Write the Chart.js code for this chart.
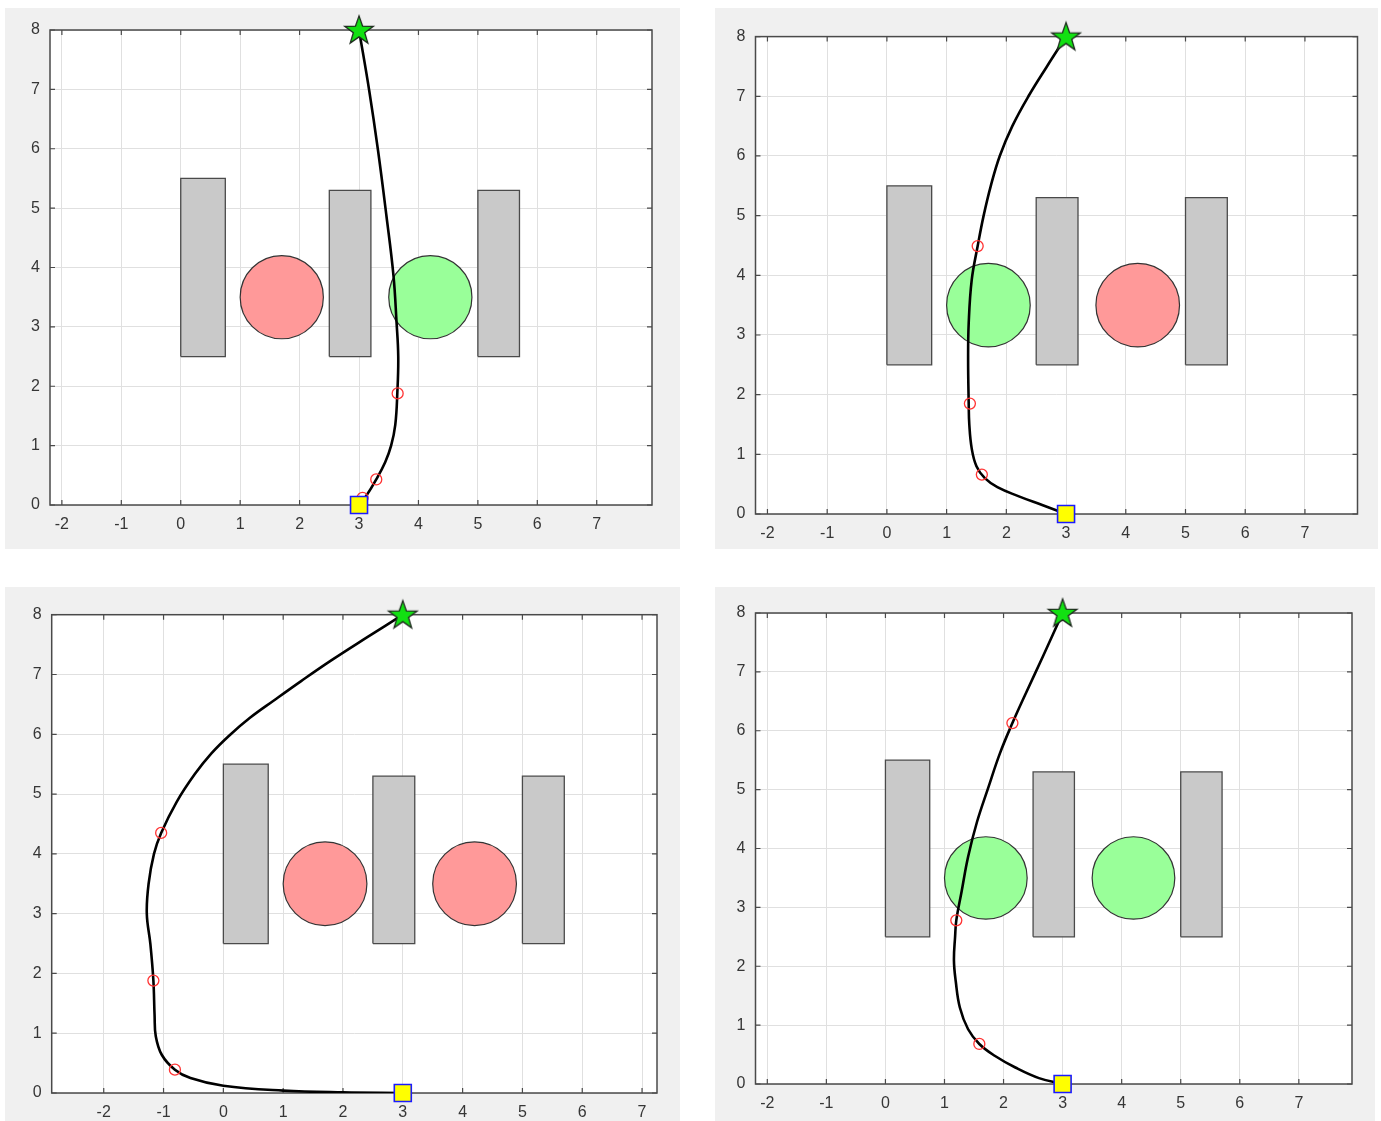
<!DOCTYPE html>
<html>
<head>
<meta charset="utf-8">
<script src="https://cdn.jsdelivr.net/npm/chart.js@4.4.1/dist/chart.umd.min.js"></script>
<style>
  html, body { margin: 0; padding: 0; background: #ffffff; }
  body { width: 1381px; height: 1121px; position: relative; overflow: hidden; }
  .panel { position: absolute; background: #f0f0f0; }
  canvas { display: block; }
</style>
</head>
<body>
<div class="panel" style="left:5px;top:8px;width:675px;height:541px"><canvas id="c1" width="675" height="541"></canvas></div>
<div class="panel" style="left:715px;top:8px;width:663px;height:541px"><canvas id="c2" width="663" height="541"></canvas></div>
<div class="panel" style="left:5px;top:587px;width:675px;height:534px"><canvas id="c3" width="675" height="534"></canvas></div>
<div class="panel" style="left:715px;top:587px;width:660px;height:534px"><canvas id="c4" width="660" height="534"></canvas></div>
<script>
// Tick values shared by every panel
const xTicks = [-2, -1, 0, 1, 2, 3, 4, 5, 6, 7];
const yTicks = [0, 1, 2, 3, 4, 5, 6, 7, 8];

// Rectangular walls (x from/to, y from/to)
const rectX0 = [0, 2.5, 5];
const rectX1 = [0.75, 3.2, 5.7];
const rectY0 = [2.5, 2.5, 2.5];
const rectY1 = [5.5, 5.3, 5.3];

// Round obstacles (centre and radius)
const circleX = [1.7, 4.2];
const circleY = [3.5, 3.5];
const circleR = [0.7, 0.7];

// Start and goal
const startXY = [3, 0];
const goalXY = [3, 8];

// Obstacle state in each panel: 'red' or 'green'
const circleState1 = ['red', 'green'];
const circleState2 = ['green', 'red'];
const circleState3 = ['red', 'red'];
const circleState4 = ['green', 'green'];

// Axis limits of each panel
const xLim1 = [-2.2, 7.93];
const xLim2 = [-2.2, 7.88];
const xLim3 = [-2.87, 7.25];
const xLim4 = [-2.2, 7.9];
const yLim = [0, 8];

// Planned trajectories
const pathX1 = [3.0, 3.12, 3.29, 3.44, 3.54, 3.61, 3.645, 3.66, 3.63, 3.58, 3.46, 3.32, 3.17, 3.0];
const pathY1 = [0.0, 0.15, 0.43, 0.72, 1.0, 1.35, 1.9, 2.5, 3.1, 3.86, 4.88, 5.97, 6.99, 8.0];

const pathX2 = [3.0, 2.6, 2.2, 1.85, 1.64, 1.5, 1.42, 1.38, 1.37, 1.36, 1.37, 1.42, 1.52, 1.62, 1.74, 1.89, 2.10, 2.37, 2.68, 3.0];
const pathY2 = [0.0, 0.15, 0.30, 0.45, 0.60, 0.80, 1.10, 1.50, 1.85, 2.60, 3.20, 3.92, 4.49, 5.0, 5.5, 6.0, 6.5, 7.0, 7.5, 8.0];

const pathX3 = [3.0, 2.0, 1.0, 0.0, -0.55, -0.81, -1.03, -1.13, -1.15, -1.17, -1.22, -1.28, -1.25, -1.16, -1.04, -0.78, -0.48, -0.2, 0.1, 0.45, 0.85, 1.3, 1.81, 2.4, 3.0];
const pathY3 = [0.0, 0.01, 0.04, 0.12, 0.25, 0.39, 0.64, 0.95, 1.3, 1.88, 2.49, 3.0, 3.5, 4.0, 4.35, 4.87, 5.33, 5.68, 5.98, 6.28, 6.57, 6.89, 7.24, 7.62, 8.0];

const pathX4 = [3.0, 2.6, 2.2, 1.85, 1.59, 1.40, 1.26, 1.19, 1.16, 1.18, 1.20, 1.29, 1.40, 1.55, 1.74, 1.94, 2.15, 2.37, 2.67, 3.0];
const pathY4 = [0.0, 0.10, 0.28, 0.48, 0.68, 0.93, 1.30, 1.75, 2.10, 2.51, 2.78, 3.27, 3.86, 4.45, 5.03, 5.62, 6.13, 6.62, 7.27, 8.0];

// Intermediate waypoints (red rings)
const wpX1 = [3.06, 3.29, 3.65];
const wpY1 = [0.12, 0.43, 1.88];
const wpX2 = [1.59, 1.39, 1.52];
const wpY2 = [0.66, 1.85, 4.49];
const wpX3 = [-0.81, -1.17, -1.04];
const wpY3 = [0.39, 1.88, 4.35];
const wpX4 = [1.59, 1.20, 2.15];
const wpY4 = [0.68, 2.78, 6.13];

const FONT = "'Liberation Sans', Arial, Helvetica, sans-serif";
const TEXT = '#363636';
const AXIS = '#4a4a4a';

function zip(xs, ys) { return xs.map((v, i) => ({ x: v, y: ys[i] })); }

function makeStar(R) {
  const s = Math.ceil(R * 2 + 6);
  const c = document.createElement('canvas');
  c.width = s; c.height = s;
  const g = c.getContext('2d');
  const cx = s / 2, cy = s / 2 + R * 0.06;
  g.beginPath();
  for (let i = 0; i < 10; i++) {
    const r = i % 2 ? R * 0.40 : R;
    const a = -Math.PI / 2 + i * Math.PI / 5;
    g.lineTo(cx + r * Math.cos(a), cy + r * Math.sin(a));
  }
  g.closePath();
  g.fillStyle = '#12e012';
  g.fill();
  g.lineWidth = 1.3;
  g.strokeStyle = '#1e2a1e';
  g.stroke();
  return c;
}
const starImg = makeStar(15);

// White axes background, round obstacles, box and inward tick marks
const axesPlugin = {
  id: 'axesDecor',
  beforeDraw(chart) {
    const { ctx, chartArea: a } = chart;
    ctx.save();
    ctx.fillStyle = '#ffffff';
    ctx.fillRect(a.left, a.top, a.right - a.left, a.bottom - a.top);
    ctx.restore();
  },
  beforeDatasetsDraw(chart, args, opts) {
    const { ctx, chartArea: a, scales: { x, y } } = chart;
    ctx.save();
    // round obstacles
    const fills = { red: '#ff9999', green: '#99ff99' };
    circleX.forEach((cxv, i) => {
      const px = x.getPixelForValue(cxv);
      const py = y.getPixelForValue(circleY[i]);
      const rx = Math.abs(x.getPixelForValue(cxv + circleR[i]) - px);
      const ry = Math.abs(y.getPixelForValue(circleY[i] + circleR[i]) - py);
      ctx.beginPath();
      ctx.ellipse(px, py, rx, ry, 0, 0, Math.PI * 2);
      ctx.fillStyle = fills[opts.states[i]];
      ctx.fill();
      ctx.lineWidth = 1.2;
      ctx.strokeStyle = '#333333';
      ctx.stroke();
    });
    // axes box
    ctx.lineWidth = 1.5;
    ctx.strokeStyle = AXIS;
    ctx.strokeRect(a.left, a.top, a.right - a.left, a.bottom - a.top);
    // inward tick marks on all four sides
    const L = 5;
    ctx.lineWidth = 1.2;
    ctx.beginPath();
    x.ticks.forEach(t => {
      const px = x.getPixelForValue(t.value);
      ctx.moveTo(px, a.bottom); ctx.lineTo(px, a.bottom - L);
      ctx.moveTo(px, a.top); ctx.lineTo(px, a.top + L);
    });
    y.ticks.forEach(t => {
      const py = y.getPixelForValue(t.value);
      ctx.moveTo(a.left, py); ctx.lineTo(a.left + L, py);
      ctx.moveTo(a.right, py); ctx.lineTo(a.right - L, py);
    });
    ctx.stroke();
    ctx.restore();
  }
};

function buildChart(id, cfg) {
  const canvas = document.getElementById(id);
  const W = canvas.width, H = canvas.height;
  const datasets = [];
  datasets.push({
    label: 'goal', data: [{ x: goalXY[0], y: goalXY[1] }],
    pointStyle: starImg, pointRadius: 15, clip: false, order: 0, showLine: false
  });
  datasets.push({
    label: 'start', data: [{ x: startXY[0], y: startXY[1] }],
    pointStyle: 'rect', pointRadius: 12, backgroundColor: '#ffff00',
    borderColor: '#1a1aff', borderWidth: 1.6, clip: false, order: 1, showLine: false
  });
  datasets.push({
    label: 'waypoints', data: zip(cfg.wpX, cfg.wpY),
    pointStyle: 'circle', pointRadius: 5.5, backgroundColor: 'rgba(0,0,0,0)',
    borderColor: '#ff3333', borderWidth: 1.3, clip: false, order: 2, showLine: false
  });
  datasets.push({
    label: 'path', data: zip(cfg.pathX, cfg.pathY), showLine: true,
    borderColor: '#000000', borderWidth: 2.6, tension: 0.4, pointRadius: 0,
    fill: false, order: 3
  });
  rectX0.forEach((x0, i) => {
    const x1 = rectX1[i], y0 = rectY0[i], y1 = rectY1[i];
    datasets.push({
      label: 'wall' + i,
      data: [{ x: x0, y: y0 }, { x: x1, y: y0 }, { x: x1, y: y1 }, { x: x0, y: y1 }, { x: x0, y: y0 }],
      showLine: true, fill: 'shape', backgroundColor: '#c9c9c9',
      borderColor: '#4a4a4a', borderWidth: 1.3, pointRadius: 0, tension: 0, order: 4
    });
  });

  return new Chart(canvas, {
    type: 'scatter',
    data: { datasets },
    plugins: [axesPlugin],
    options: {
      responsive: false,
      animation: false,
      devicePixelRatio: 1,
      events: [],
      layout: { padding: { left: 0, top: cfg.area.top, right: W - cfg.area.right, bottom: 0 } },
      plugins: {
        legend: { display: false },
        tooltip: { enabled: false },
        axesDecor: { states: cfg.states }
      },
      scales: {
        x: {
          type: 'linear', min: cfg.xLim[0], max: cfg.xLim[1],
          afterBuildTicks: s => { s.ticks = xTicks.map(v => ({ value: v })); },
          afterFit: s => { s.height = H - cfg.area.bottom; },
          grid: { color: '#e0e0e0', lineWidth: 1, drawTicks: false },
          border: { display: false },
          ticks: { padding: 10, color: TEXT, font: { family: FONT, size: 16 }, maxRotation: 0, autoSkip: false }
        },
        y: {
          type: 'linear', min: yLim[0], max: yLim[1],
          afterBuildTicks: s => { s.ticks = yTicks.map(v => ({ value: v })); },
          afterFit: s => { s.width = cfg.area.left; },
          grid: { color: '#e0e0e0', lineWidth: 1, drawTicks: false },
          border: { display: false },
          ticks: { padding: 10, color: TEXT, font: { family: FONT, size: 16 }, autoSkip: false }
        }
      }
    }
  });
}

buildChart('c1', {
  area: { left: 45, top: 22, right: 647, bottom: 497 },
  xLim: xLim1, states: circleState1,
  pathX: pathX1, pathY: pathY1, wpX: wpX1, wpY: wpY1
});
buildChart('c2', {
  area: { left: 40.5, top: 28.6, right: 642.5, bottom: 506 },
  xLim: xLim2, states: circleState2,
  pathX: pathX2, pathY: pathY2, wpX: wpX2, wpY: wpY2
});
buildChart('c3', {
  area: { left: 46.7, top: 27.7, right: 652, bottom: 506 },
  xLim: xLim3, states: circleState3,
  pathX: pathX3, pathY: pathY3, wpX: wpX3, wpY: wpY3
});
buildChart('c4', {
  area: { left: 40.5, top: 26, right: 637, bottom: 497 },
  xLim: xLim4, states: circleState4,
  pathX: pathX4, pathY: pathY4, wpX: wpX4, wpY: wpY4
});
</script>
</body>
</html>
